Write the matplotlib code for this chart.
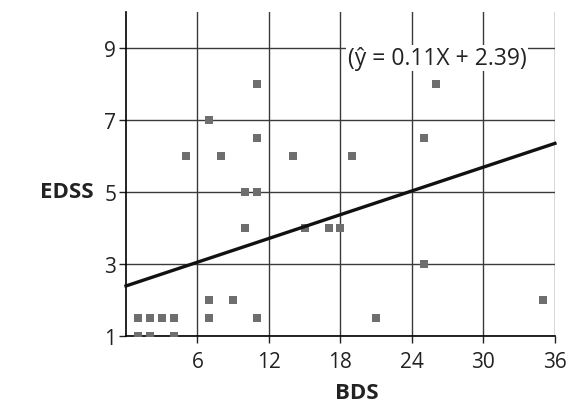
import matplotlib
matplotlib.use("Agg")
import matplotlib.pyplot as plt
import numpy as np

plt.rcParams.update({"font.family": ["Open Sans", "DejaVu Sans"], "font.size": 15})

# BDS vs EDSS scatter values
bds = [1, 2, 3, 4, 7, 11, 1, 2, 4, 7, 9, 10, 10, 11, 15, 17, 18,
       25, 21, 35, 11, 7, 11, 5, 8, 14, 26, 25, 19]
edss = [1.5, 1.5, 1.5, 1.5, 1.5, 1.5, 1, 1, 1, 2, 2, 4, 5, 5, 4, 4, 4,
        3, 1.5, 2, 8, 7, 6.5, 6, 6, 6, 8, 6.5, 6]
slope = 0.11
intercept = 2.39
x_ticks = [6, 12, 18, 24, 30, 36]
y_ticks = [1, 3, 5, 7, 9]

fig = plt.figure(figsize=(5.78, 4.06), dpi=100)
ax = fig.add_axes([0.218, 0.170, 0.742, 0.798])

ax.set_xlim(0, 36)
ax.set_ylim(1, 10)
ax.set_xticks(x_ticks)
ax.set_yticks(y_ticks)
ax.grid(True, color="#3a3a3a", linewidth=1.0)
ax.set_axisbelow(True)
ax.spines[["top", "right"]].set_visible(False)
ax.spines[["left", "bottom"]].set_linewidth(1.2)
ax.tick_params(length=5, width=1.0, color="#222222", labelcolor="#222222",
               labelsize=15)
ax.tick_params(axis="x", pad=6)
ax.tick_params(axis="y", pad=2)

ax.scatter(bds, edss, marker="s", s=40, color="#6e6e6e", zorder=3, linewidths=0)

xs = np.array([0, 36])
ax.plot(xs, slope * xs + intercept, color="#111111", linewidth=2.4, zorder=4,
        clip_on=False)

ax.text(26.1, 8.72, "(ŷ = 0.11X + 2.39)", ha="center", va="center",
        color="#222222", fontsize=16.5,
        bbox=dict(facecolor="white", edgecolor="none", pad=1.0), zorder=5)

fig.text(40 / 578, 1 - 193 / 406, "EDSS", ha="left", va="center",
         fontweight="bold", fontsize=16, color="#222222")
fig.text(357 / 578, 1 - 394 / 406, "BDS", ha="center", va="center",
         fontweight="bold", fontsize=16, color="#222222")

fig.savefig("out.png", dpi=100)
